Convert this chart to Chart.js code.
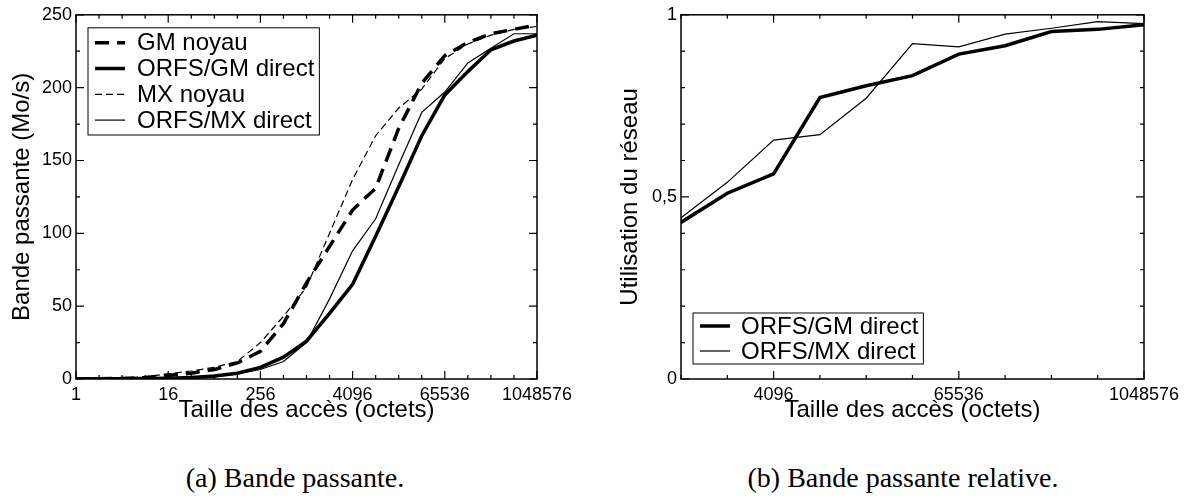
<!DOCTYPE html>
<html>
<head>
<meta charset="utf-8">
<script src="https://cdn.jsdelivr.net/npm/chart.js@4.4.1/dist/chart.umd.min.js"></script>
<style>
  body { margin: 0; background: #fff; }
  #wrap { position: relative; width: 1189px; height: 504px; }
  canvas { position: absolute; top: 0; }
  .caption {
    position: absolute;
    top: 462px;
    transform: translateX(-50%);
    font-family: "Liberation Serif", "DejaVu Serif", serif;
    font-size: 28px;
    color: #000;
    white-space: nowrap;
  }
</style>
</head>
<body>
<div id="wrap">
  <canvas id="chartA" width="585" height="440" style="left:0"></canvas>
  <canvas id="chartB" width="589" height="440" style="left:600px"></canvas>
  <div class="caption" style="left:295px">(a) Bande passante.</div>
  <div class="caption" style="left:903px">(b) Bande passante relative.</div>
</div>

<script>
// access sizes (octets), powers of 2
const sizesA = [1, 2, 4, 8, 16, 32, 64, 128, 256, 512, 1024, 2048, 4096, 8192,
  16384, 32768, 65536, 131072, 262144, 524288, 1048576];
const majorA = [1, 16, 256, 4096, 65536, 1048576];

// bandwidth (Mo/s)
const gmNoyau = [0.1, 0.2, 0.4, 1, 2.5, 4, 6.5, 11, 19, 38, 66, 91, 116, 131, 172, 203, 222, 231, 237, 240, 243];
const orfsGm  = [0, 0.1, 0.2, 0.3, 0.5, 1, 2, 4, 8, 15, 26, 45, 65, 98, 132, 167, 195, 211, 226, 232, 236];
const mxNoyau = [0.1, 0.3, 0.6, 1.5, 3.5, 5.5, 8, 12, 25, 43, 63, 100, 137, 167, 186, 199, 220, 230, 236, 240, 242];
const orfsMx  = [0, 0.1, 0.2, 0.3, 0.4, 0.8, 1.5, 3.5, 6.5, 12, 25, 55, 88, 110, 147, 183, 197, 217, 227, 237, 237];

// relative bandwidth
const sizesB = [1024, 2048, 4096, 8192, 16384, 32768, 65536, 131072, 262144, 524288, 1048576];
const majorB = [4096, 65536, 1048576];
const gmRatio = [0.43, 0.51, 0.563, 0.773, 0.805, 0.833, 0.892, 0.915, 0.954, 0.96, 0.973];
const mxRatio = [0.443, 0.54, 0.656, 0.671, 0.771, 0.921, 0.912, 0.947, 0.963, 0.981, 0.976];

const FONT = '"Liberation Sans", Arial, sans-serif';
Chart.defaults.font.family = FONT;
Chart.defaults.color = '#000';

function pts(xs, ys) {
  return xs.map((x, i) => ({ x: x, y: ys[i] }));
}

// frame + inward ticks on all four sides
const framePlugin = {
  id: 'frame',
  afterDraw(chart) {
    const ctx = chart.ctx;
    const a = chart.chartArea;
    ctx.save();
    ctx.strokeStyle = '#000';
    ctx.lineWidth = 1.5;
    ctx.strokeRect(a.left, a.top, a.right - a.left, a.bottom - a.top);
    ctx.lineWidth = 1.2;
    ctx.beginPath();
    chart.scales.x.ticks.forEach((t, i) => {
      const px = chart.scales.x.getPixelForTick(i);
      const len = t.label ? 8 : 4;
      ctx.moveTo(px, a.bottom); ctx.lineTo(px, a.bottom - len);
      ctx.moveTo(px, a.top); ctx.lineTo(px, a.top + len);
    });
    chart.scales.y.ticks.forEach((t, i) => {
      const py = chart.scales.y.getPixelForTick(i);
      const len = t.label ? 8 : 4;
      ctx.moveTo(a.left, py); ctx.lineTo(a.left + len, py);
      ctx.moveTo(a.right, py); ctx.lineTo(a.right - len, py);
    });
    ctx.stroke();
    ctx.restore();
  }
};

// legend box drawn inside the plot
const boxLegend = {
  id: 'boxLegend',
  afterDraw(chart, args, opts) {
    const ctx = chart.ctx;
    const a = chart.chartArea;
    const sets = chart.data.datasets;
    ctx.save();
    ctx.font = opts.fontSize + 'px ' + FONT;
    const textW = Math.max(...sets.map(d => ctx.measureText(d.label).width));
    const w = opts.textX + textW + 5;
    const h = sets.length * opts.rowH + 2 * opts.padY;
    const x = a.left + opts.offsetX;
    const y = opts.top != null ? a.top + opts.top : a.bottom - opts.bottom - h;
    ctx.fillStyle = '#fff';
    ctx.fillRect(x, y, w, h);
    ctx.strokeStyle = '#000';
    ctx.lineWidth = 1;
    ctx.strokeRect(x, y, w, h);
    sets.forEach((d, i) => {
      const cy = y + opts.padY + opts.rowH * (i + 0.5);
      ctx.beginPath();
      ctx.setLineDash(d.borderDash || []);
      ctx.lineWidth = d.borderWidth;
      ctx.moveTo(x + 7, cy);
      ctx.lineTo(x + 37, cy);
      ctx.stroke();
      ctx.setLineDash([]);
      ctx.fillStyle = '#000';
      ctx.textBaseline = 'middle';
      ctx.fillText(d.label, x + opts.textX, cy + 1);
    });
    ctx.restore();
  }
};

function xAxis(sizes, majors) {
  return {
    type: 'logarithmic',
    min: sizes[0],
    max: sizes[sizes.length - 1],
    afterBuildTicks: s => { s.ticks = sizes.map(v => ({ value: v })); },
    afterFit: s => { s.height = 61; },
    grid: { display: false, drawTicks: false },
    border: { display: false },
    ticks: {
      autoSkip: false, maxRotation: 0, minRotation: 0, padding: 5,
      font: { size: 18 },
      callback: v => majors.includes(v) ? String(v) : ''
    },
    title: {
      display: true, text: 'Taille des accès (octets)',
      font: { size: 24 }, padding: { top: 0, bottom: 15 }
    }
  };
}

document.addEventListener("DOMContentLoaded", () => {

  /* (a) bandwidth */
  new Chart(document.getElementById("chartA"), {
    type: "line",
    data: {
      datasets: [
        { label: "GM noyau", data: pts(sizesA, gmNoyau), borderColor: "#000", borderWidth: 3.5, borderDash: [14, 8] },
        { label: "ORFS/GM direct", data: pts(sizesA, orfsGm), borderColor: "#000", borderWidth: 3.5 },
        { label: "MX noyau", data: pts(sizesA, mxNoyau), borderColor: "#000", borderWidth: 1.2, borderDash: [7, 4] },
        { label: "ORFS/MX direct", data: pts(sizesA, orfsMx), borderColor: "#000", borderWidth: 1.2 }
      ]
    },
    options: {
      responsive: false,
      animation: false,
      elements: { point: { radius: 0 }, line: { tension: 0, fill: false } },
      layout: { padding: { left: 0, top: 14, right: 48, bottom: 0 } },
      plugins: {
        legend: { display: false },
        tooltip: { enabled: false },
        boxLegend: { fontSize: 24, offsetX: 12, top: 13, rowH: 25.8, padY: 2, textX: 49 }
      },
      scales: {
        x: xAxis(sizesA, majorA),
        y: {
          min: 0, max: 250,
          afterFit: s => { s.width = 76; },
          grid: { display: false, drawTicks: false },
          border: { display: false },
          ticks: {
            stepSize: 25, padding: 4, font: { size: 18 },
            callback: v => v % 50 === 0 ? String(v) : ''
          },
          title: {
            display: true, text: "Bande passante (Mo/s)",
            font: { size: 24 }, padding: { top: 8, bottom: 0 }
          }
        }
      }
    },
    plugins: [framePlugin, boxLegend]
  });

  /* (b) relative bandwidth */
  new Chart(document.getElementById("chartB"), {
    type: "line",
    data: {
      datasets: [
        { label: "ORFS/GM direct", data: pts(sizesB, gmRatio), borderColor: "#000", borderWidth: 3.5 },
        { label: "ORFS/MX direct", data: pts(sizesB, mxRatio), borderColor: "#000", borderWidth: 1.2 }
      ]
    },
    options: {
      responsive: false,
      animation: false,
      elements: { point: { radius: 0 }, line: { tension: 0, fill: false } },
      layout: { padding: { left: 0, top: 14, right: 45, bottom: 0 } },
      plugins: {
        legend: { display: false },
        tooltip: { enabled: false },
        boxLegend: { fontSize: 24, offsetX: 12, bottom: 15, rowH: 25, padY: 0.5, textX: 48 }
      },
      scales: {
        x: xAxis(sizesB, majorB),
        y: {
          min: 0, max: 1,
          afterFit: s => { s.width = 81; },
          grid: { display: false, drawTicks: false },
          border: { display: false },
          ticks: {
            stepSize: 0.1, padding: 4, font: { size: 18 },
            callback: v => {
              if (Math.abs(v) < 1e-6) return '0';
              if (Math.abs(v - 0.5) < 1e-6) return '0,5';
              if (Math.abs(v - 1) < 1e-6) return '1';
              return '';
            }
          },
          title: {
            display: true, text: "Utilisation du réseau",
            font: { size: 24 }, padding: { top: 16, bottom: 0 }
          }
        }
      }
    },
    plugins: [framePlugin, boxLegend]
  });

});
</script>
</body>
</html>
